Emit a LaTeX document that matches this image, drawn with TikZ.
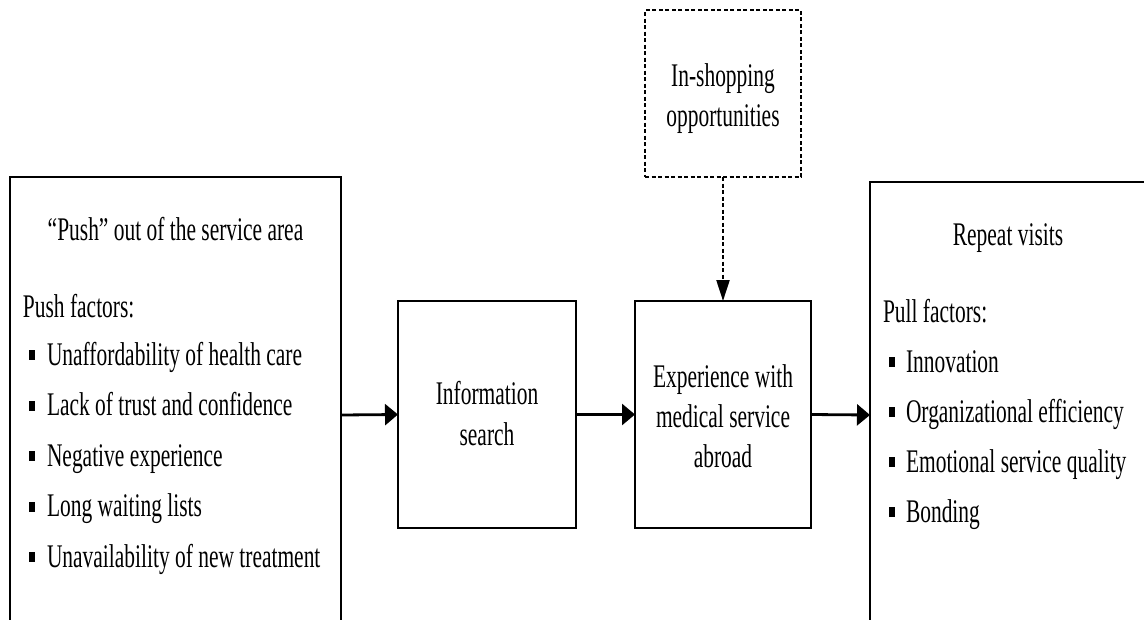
\documentclass[tikz,border=0pt]{standalone}
\usepackage{fontspec}
\setmainfont{Liberation Serif}[FakeStretch=0.65]
\usetikzlibrary{arrows.meta}
\newcommand\sqbul{\raisebox{5pt}{\rule{6pt}{10pt}}}
\begin{document}
\begin{tikzpicture}[x=1pt,y=-1pt,
  box/.style={draw, line width=2.8pt, inner sep=0pt, outer sep=0pt},
  dbox/.style={draw, line width=2.2pt, dash pattern=on 4pt off 2.5pt, inner sep=0pt, outer sep=0pt},
  txt/.style={inner sep=0pt, outer sep=0pt, font=\fontsize{33}{40}\selectfont},
  harrow/.style={line width=2.8pt, -{Triangle[length=13pt,width=21pt]}},
  varrow/.style={line width=2.2pt, dash pattern=on 4pt off 2.5pt, -{Triangle[length=21pt,width=13pt]}}]
\useasboundingbox (0,0) rectangle (1144,619);
\fill[white] (0,0) rectangle (1144,619);
\clip (0,0) rectangle (1144,619);
% boxes
\node[box, minimum width=331pt, minimum height=476pt] (L) at (175.5,415) {};
\node[box, minimum width=290pt, minimum height=466pt] (R) at (1015,415) {};
\node[box, minimum width=178pt, minimum height=227pt] (I) at (487,414.5) {};
\node[box, minimum width=176pt, minimum height=227pt] (E) at (723,414.5) {};
\node[dbox, minimum width=156pt, minimum height=167pt] (D) at (723,93.5) {};
% left text
\node[txt, anchor=base] (lt) at (175.5,240) {“Push” out of the service area};
\node[txt, anchor=base west] (lh) at (23,317) {Push factors:};
\node[txt, anchor=base west] (l1) at (29,365) {\sqbul\hspace{12pt}Unaffordability of health care};
\node[txt, anchor=base west] (l2) at (29,415.5) {\sqbul\hspace{12pt}Lack of trust and confidence};
\node[txt, anchor=base west] (l3) at (29,466) {\sqbul\hspace{12pt}Negative experience};
\node[txt, anchor=base west] (l4) at (29,516.5) {\sqbul\hspace{12pt}Long waiting lists};
\node[txt, anchor=base west] (l5) at (29,567) {\sqbul\hspace{12pt}Unavailability of new treatment};
% right text
\node[txt, anchor=base] (rt) at (1008,245) {Repeat visits};
\node[txt, anchor=base west] (rh) at (883,322) {Pull factors:};
\node[txt, anchor=base west] (r1) at (889,372) {\sqbul\hspace{11pt}Innovation};
\node[txt, anchor=base west] (r2) at (889,422) {\sqbul\hspace{11pt}Organizational efficiency};
\node[txt, anchor=base west] (r3) at (889,472) {\sqbul\hspace{11pt}Emotional service quality};
\node[txt, anchor=base west] (r4) at (889,522) {\sqbul\hspace{11pt}Bonding};
% middle texts
\node[txt, anchor=base] (i1) at (487,404) {Information};
\node[txt, anchor=base] (i2) at (487,445) {search};
\node[txt, anchor=base] (e1) at (723,387) {Experience with};
\node[txt, anchor=base] (e2) at (723,427) {medical service};
\node[txt, anchor=base] (e3) at (723,467) {abroad};
\node[txt, anchor=base] (d1) at (723,86) {In-shopping};
\node[txt, anchor=base] (d2) at (723,126) {opportunities};
% connectors
\draw[harrow] (L.east) -- (I.west);
\draw[harrow] (I.east) -- (E.west);
\draw[harrow] (E.east) -- (R.west);
\draw[varrow] (D.south) -- (E.north);
\end{tikzpicture}
\end{document}
